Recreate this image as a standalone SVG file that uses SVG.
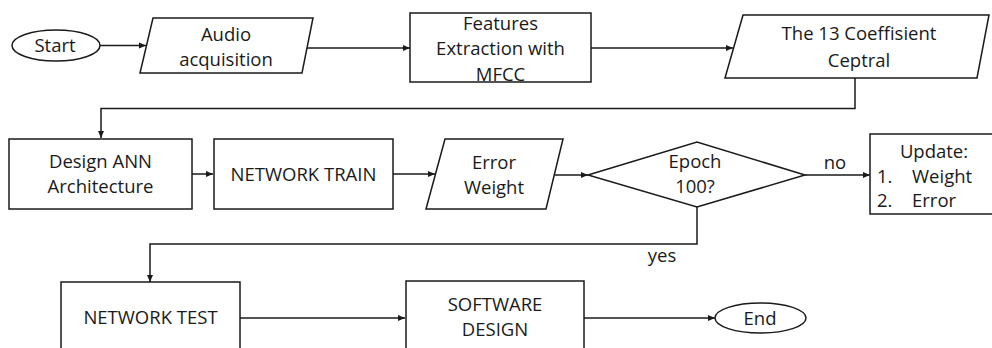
<svg xmlns="http://www.w3.org/2000/svg" width="992" height="348" viewBox="0 0 992 348">
<defs>
<marker id="arr" markerUnits="userSpaceOnUse" markerWidth="8" markerHeight="7" refX="7" refY="3.5" orient="auto">
<path d="M0,0.5 L7,3.5 L0,6.5 z" fill="#1a1a1a"/>
</marker>
<style>
.s{fill:#fff;stroke:#1a1a1a;stroke-width:1.5}
.c{fill:none;stroke:#1a1a1a;stroke-width:1.5}
.a{marker-end:url(#arr)}
text{font-family:"Open Sans","Liberation Sans",sans-serif;font-size:18.5px;fill:#1a1a1a;text-anchor:middle}
.l{text-anchor:start}
</style>
</defs>
<rect width="992" height="348" fill="#fff"/>
<g id="connectors">
<path class="c a" d="M100,45.5 H146"/>
<path class="c a" d="M307,48 H410"/>
<path class="c a" d="M591,48 H733"/>
<path class="c a" d="M855,78 V108.5 H101 V138"/>
<path class="c a" d="M192,174 H213"/>
<path class="c a" d="M393,174 H435"/>
<path class="c a" d="M555,175 H588"/>
<path class="c a" d="M805,175 H870"/>
<path class="c a" d="M697,207 V244 H150 V282"/>
<path class="c a" d="M240,318 H405"/>
<path class="c a" d="M584,318 H715"/>
<text x="835" y="169">no</text>
<text x="662" y="262">yes</text>
</g>
<g id="start">
<ellipse class="s" cx="56" cy="45.5" rx="44" ry="15.5"/>
<text x="55" y="52">Start</text>
</g>
<g id="audio">
<polygon class="s" points="153,18 313,18 302,73 140,73"/>
<text x="226" y="41">Audio</text>
<text x="226" y="66">acquisition</text>
</g>
<g id="features">
<rect class="s" x="410" y="13" width="181" height="69"/>
<text x="500.5" y="30">Features</text>
<text x="500.5" y="55">Extraction with</text>
<text x="500.5" y="81">MFCC</text>
</g>
<g id="coeff">
<polygon class="s" points="743,15 989,15 977,78 725,78"/>
<text x="859" y="40">The 13 Coeffisient</text>
<text x="859" y="67">Ceptral</text>
</g>
<g id="design">
<rect class="s" x="9" y="139" width="183" height="70"/>
<text x="100.5" y="168">Design ANN</text>
<text x="100.5" y="193">Architecture</text>
</g>
<g id="train">
<rect class="s" x="214" y="139" width="179" height="70"/>
<text x="303.5" y="181">NETWORK TRAIN</text>
</g>
<g id="errorweight">
<polygon class="s" points="445,139 563,139 546,209 426,209"/>
<text x="494" y="169">Error</text>
<text x="494" y="194">Weight</text>
</g>
<g id="epoch">
<polygon class="s" points="588,175 697,142 805,175 697,207"/>
<text x="695" y="168">Epoch</text>
<text x="695" y="193">100?</text>
</g>
<g id="update">
<rect class="s" x="870" y="134" width="130" height="80"/>
<text x="934" y="158">Update:</text>
<text class="l" x="877" y="183">1.</text>
<text class="l" x="912" y="183">Weight</text>
<text class="l" x="877" y="207">2.</text>
<text class="l" x="912" y="207">Error</text>
</g>
<g id="test">
<rect class="s" x="61" y="282" width="179" height="80"/>
<text x="150.5" y="324">NETWORK TEST</text>
</g>
<g id="software">
<rect class="s" x="406" y="281" width="178" height="81"/>
<text x="495" y="311">SOFTWARE</text>
<text x="495" y="336">DESIGN</text>
</g>
<g id="end">
<ellipse class="s" cx="760.5" cy="318" rx="45.5" ry="15"/>
<text x="760" y="324.5">End</text>
</g>
</svg>
